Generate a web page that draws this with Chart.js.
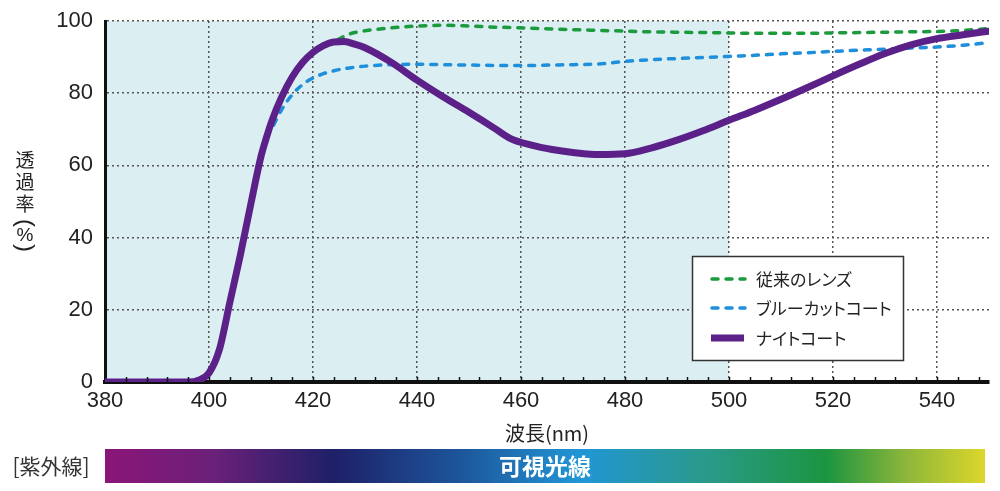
<!DOCTYPE html>
<html lang="ja">
<head>
<meta charset="utf-8">
<script src="https://cdn.jsdelivr.net/npm/chart.js@4.4.0/dist/chart.umd.min.js"></script>
<style>
  html, body { margin: 0; padding: 0; background: #fff; }
  #wrap { position: relative; width: 1000px; height: 491px; }
  .lg {
    position: absolute; left: 756px; height: 20px; line-height: 20px;
    font-family: "Noto Sans CJK JP", "Noto Sans", sans-serif; font-size: 17px; color: #222;
    font-feature-settings: "palt"; white-space: nowrap;
  }
</style>
</head>
<body>
<div id="wrap"><canvas id="chart" width="1000" height="491"></canvas></div>
<script>
// 波長 (nm)
const wavelengths = [380, 390, 396, 398, 400, 402, 404, 406, 408, 410, 411, 412, 414, 416, 418, 420, 422, 424,
  426, 428, 430, 435, 440, 445, 450, 455, 458, 462, 466, 470, 475, 480, 485, 490, 495, 500,
  505, 510, 515, 520, 525, 530, 535, 540, 545, 550];

// 透過率 (%)
const conventional = [0, 0, 0, 0.5, 2.5, 9, 22, 35, 49, 62.5, 67.5, 72, 79, 84.5, 88.5, 91.3, 93.2, 94.2,
  95.8, 96.8, 97.3, 98.1, 98.6, 98.8, 98.6, 98.3, 98.2, 98, 97.8, 97.6, 97.4, 97.2, 97, 96.9, 96.8, 96.7,
  96.6, 96.6, 96.6, 96.7, 96.8, 96.9, 97, 97.1, 97.4, 97.9];
const blueCut = [0, 0, 0, 0.5, 2.5, 9, 22, 35, 49, 62.5, 67.5, 70, 75.5, 79.6, 82.4, 84.2, 85.4, 86.2,
  86.8, 87.2, 87.5, 87.9, 88, 87.9, 87.8, 87.7, 87.7, 87.7, 87.8, 87.9, 88.1, 88.8, 89.3, 89.6, 89.9, 90.2,
  90.5, 90.9, 91.2, 91.6, 91.9, 92.2, 92.5, 92.8, 93.3, 94];
const nightCoat = [0, 0, 0, 0.5, 2.5, 9, 22, 35, 49, 62.5, 67.5, 72, 79, 84.5, 88.5, 91.3, 93.2, 94.2,
  94.3, 93.6, 92.6, 88.6, 83.6, 79, 74.7, 70.2, 67.4, 65.6, 64.4, 63.6, 63, 63.2, 64.8, 67, 69.6, 72.5,
  75.3, 78.3, 81.5, 84.8, 88, 91, 93.4, 95.1, 96.2, 97.2];

const seriesNames = ['従来のレンズ', 'ブルーカットコート', 'ナイトコート'];
const xTickValues = [380, 400, 420, 440, 460, 480, 500, 520, 540];
const yTickValues = [0, 20, 40, 60, 80, 100];
const shadeRange = [380, 500];   // 背景の水色の範囲
const minorStep = 4;
const legendRows = [279, 308, 338];

const CJK = '"Noto Sans CJK JP", "Noto Sans", sans-serif';
const NUM = '"Liberation Sans", Arial, sans-serif';
const GRID = '#555';

const toPoints = arr => wavelengths.map((w, i) => ({ x: w, y: arr[i] }));

// 凡例の文字 (プロポーショナル詰め)
const wrap = document.getElementById('wrap');
seriesNames.forEach((name, i) => {
  const el = document.createElement('div');
  el.className = 'lg';
  el.style.top = (legendRows[i] - 10) + 'px';
  el.textContent = name;
  wrap.appendChild(el);
});

const decor = {
  id: 'decor',
  beforeDraw(chart) {
    const { ctx, scales: { x, y } } = chart;
    const l = x.getPixelForValue(shadeRange[0]);
    const r = x.getPixelForValue(shadeRange[1]);
    const t = y.getPixelForValue(100);
    const b = y.getPixelForValue(0);
    ctx.save();
    ctx.fillStyle = '#dbeff3';
    ctx.fillRect(l, t, r - l, b - t);
    ctx.restore();
  },
  afterDraw(chart) {
    const { ctx, chartArea, scales: { x, y } } = chart;
    ctx.save();

    // 目盛り (内向き)
    ctx.strokeStyle = '#111';
    ctx.lineWidth = 1.5;
    const base = y.getPixelForValue(0);
    for (let v = 380 + minorStep; v < 550; v += minorStep) {
      const px = Math.round(x.getPixelForValue(v)) + 0.5;
      ctx.beginPath();
      ctx.moveTo(px, base);
      ctx.lineTo(px, base - 5);
      ctx.stroke();
    }

    // 縦軸タイトル
    ctx.fillStyle = '#222';
    ctx.font = '19px ' + CJK;
    ctx.textAlign = 'center';
    ctx.textBaseline = 'middle';
    const cx = 25;
    [['透', 160], ['過', 181.5], ['率', 203.5]].forEach(([c, cy]) => ctx.fillText(c, cx, cy));
    ctx.font = '24px ' + NUM;
    ctx.save();
    ctx.translate(cx, 223);
    ctx.rotate(Math.PI / 2);
    ctx.fillText('(', 0, 0);
    ctx.restore();
    ctx.save();
    ctx.translate(cx, 248);
    ctx.rotate(Math.PI / 2);
    ctx.fillText(')', 0, 0);
    ctx.restore();
    ctx.font = '19px ' + NUM;
    ctx.fillText('%', cx, 235.5);

    // 横軸タイトル
    ctx.font = '20px ' + CJK;
    ctx.fillText('波長(nm)', (chartArea.left + chartArea.right) / 2, 433);

    // 凡例の枠と線
    ctx.fillStyle = '#fff';
    ctx.fillRect(692, 256, 211, 104);
    ctx.strokeStyle = '#333';
    ctx.lineWidth = 1.5;
    ctx.strokeRect(692.5, 256.5, 211, 104);
    chart.data.datasets.forEach((ds, i) => {
      const ry = legendRows[i];
      ctx.save();
      ctx.strokeStyle = ds.borderColor;
      if (ds.borderDash) {
        ctx.lineWidth = 3.5;
        ctx.lineCap = 'round';
        ctx.setLineDash([6, 8]);
        ctx.beginPath();
        ctx.moveTo(712, ry);
        ctx.lineTo(745, ry);
        ctx.stroke();
      } else {
        ctx.fillStyle = ds.borderColor;
        ctx.fillRect(711, ry - 3.5, 33, 7);
      }
      ctx.restore();
    });

    // 可視光線バー
    const bx0 = 105, bx1 = 985, by = 449, bh = 34;
    const g = ctx.createLinearGradient(bx0, 0, bx1, 0);
    g.addColorStop(0, '#8b1579');
    g.addColorStop(0.12, '#6c2079');
    g.addColorStop(0.26, '#1e2068');
    g.addColorStop(0.4, '#1d5499');
    g.addColorStop(0.54, '#2196d6');
    g.addColorStop(0.68, '#2a9a8c');
    g.addColorStop(0.82, '#1c9540');
    g.addColorStop(0.91, '#8db63a');
    g.addColorStop(1, '#dcd72b');
    ctx.fillStyle = g;
    ctx.fillRect(bx0, by, bx1 - bx0, bh);
    ctx.fillStyle = '#fff';
    ctx.font = 'bold 23px ' + CJK;
    ctx.textAlign = 'center';
    ctx.fillText('可視光線', 545, by + bh / 2);

    ctx.fillStyle = '#333';
    ctx.font = '21px ' + CJK;
    ctx.fillText('[紫外線]', 51, by + bh / 2);

    ctx.restore();
  }
};

new Chart(document.getElementById('chart'), {
  type: 'line',
  data: {
    datasets: [
      {
        label: seriesNames[0],
        data: toPoints(conventional),
        borderColor: '#1b9a3e',
        borderWidth: 3.5,
        borderDash: [6, 8],
        borderCapStyle: 'round',
        order: 1
      },
      {
        label: seriesNames[1],
        data: toPoints(blueCut),
        borderColor: '#1f8fdc',
        borderWidth: 3.5,
        borderDash: [6, 8],
        borderCapStyle: 'round',
        order: 2
      },
      {
        label: seriesNames[2],
        data: toPoints(nightCoat),
        borderColor: '#5c2189',
        borderWidth: 7,
        borderCapStyle: 'round',
        borderJoinStyle: 'round',
        order: 0
      }
    ]
  },
  options: {
    responsive: false,
    animation: false,
    layout: { padding: { top: 21, right: 11, left: 0, bottom: 0 } },
    elements: {
      point: { radius: 0 },
      line: { cubicInterpolationMode: 'monotone', fill: false }
    },
    plugins: {
      legend: { display: false },
      tooltip: { enabled: false }
    },
    scales: {
      x: {
        type: 'linear',
        min: 380,
        max: 550,
        afterFit: s => { s.height = 109; },
        afterBuildTicks: s => { s.ticks = xTickValues.map(v => ({ value: v })); },
        ticks: { color: '#222', font: { family: NUM, size: 22 }, padding: 6, maxRotation: 0 },
        grid: {
          drawTicks: false,
          lineWidth: 1.5,
          color: c => (c.tick && c.tick.value === 380 ? 'rgba(0,0,0,0)' : GRID)
        },
        border: { display: true, color: '#111', width: 4, dash: [2, 3] }
      },
      y: {
        min: 0,
        max: 100,
        afterFit: s => { s.width = 105; s.paddingTop = 0; s.paddingBottom = 0; },
        afterBuildTicks: s => { s.ticks = yTickValues.map(v => ({ value: v })); },
        ticks: { color: '#222', font: { family: NUM, size: 22 }, padding: 12 },
        grid: {
          drawTicks: false,
          lineWidth: 1.5,
          color: c => (c.tick && c.tick.value === 0 ? 'rgba(0,0,0,0)' : GRID)
        },
        border: { display: true, color: '#111', width: 3, dash: [2, 3] }
      }
    }
  },
  plugins: [decor]
});
</script>
</body>
</html>
